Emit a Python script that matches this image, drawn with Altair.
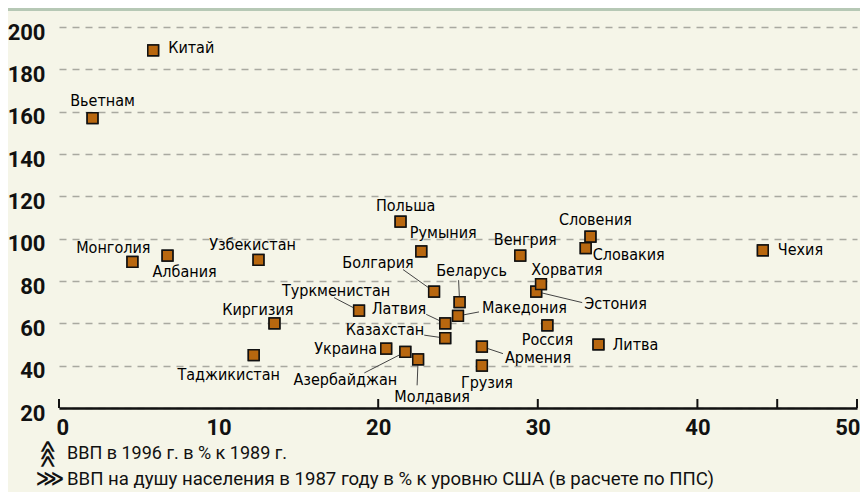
import altair as alt
import pandas as pd

# ---- data ----
countries = ["Китай", "Вьетнам", "Монголия", "Албания", "Узбекистан", "Киргизия",
             "Таджикистан", "Туркменистан", "Латвия", "Казахстан", "Беларусь",
             "Македония", "Болгария", "Украина", "Азербайджан", "Молдавия",
             "Армения", "Грузия", "Россия", "Литва", "Эстония", "Хорватия",
             "Венгрия", "Словения", "Словакия", "Чехия", "Польша", "Румыния"]
gdp_pc_1987 = [5.9, 2.1, 4.6, 6.8, 12.5, 13.5, 12.2, 18.8, 24.2, 24.2, 25.1,
               25.0, 23.5, 20.5, 21.7, 22.5, 26.5, 26.5, 30.6, 33.8, 29.9, 30.2,
               28.9, 33.3, 33.0, 44.1, 21.4, 22.7]
gdp_1996 = [189, 157, 89, 92, 90, 60, 45, 66, 60, 53, 70, 63.5, 75, 48, 46.5,
            43, 49, 40, 59, 50, 75, 78.5, 92, 101, 95.5, 94.5, 108, 94]

# label placement (pixel offsets from marker) and alignment
label_dx = [15, 10, 18, -15, -6, 19, -25, -23, -19, -21, 12, 24, -56, -9, -60,
            14, 23, 5, 0, 14, 48, 26, 5, 5, 7, 15, 5, 22]
label_dy = [-2, -17, -14, 16, -15, -13, 20, -20, -14, -8, -31, -8, -29, 0, 28,
            38, 11, 17, 15, 0, 12, -14, -16, -17, 7, 0, -16, -18]
label_align = ["left", "center", "right", "left", "center", "right", "center",
               "center", "right", "right", "center", "left", "center", "right",
               "center", "center", "left", "center", "center", "left", "left",
               "center", "center", "center", "left", "left", "center", "center"]
# leader lines (pixel offsets of the line end from the marker)
leader_names = ["Туркменистан", "Латвия", "Казахстан", "Беларусь", "Македония",
                "Болгария", "Азербайджан", "Молдавия", "Армения", "Эстония"]
leader_dx = [-25, -19, -21, -1, 21, -31, -41, -1, 21, 46]
leader_dy = [-13, -9, -3, -22, -4, -22, 21, 26, 7, 11]

x_ticks = [0, 10, 20, 30, 40, 50]
x_tick_marks = [0, 20, 30, 40, 45, 50]
y_ticks = [20, 40, 60, 80, 100, 120, 140, 160, 180, 200]
footnotes = ["ВВП в 1996 г. в % к 1989 г.",
             "ВВП на душу населения в 1987 году в % к уровню США (в расчете по ППС)"]

W, H = 798, 381
XMIN, XMAX, YMIN, YMAX = 0, 50, 20, 200
ppx = W / (XMAX - XMIN)
ppy = H / (YMAX - YMIN)

df = pd.DataFrame({"country": countries, "x": gdp_pc_1987, "y": gdp_1996,
                   "dx": label_dx, "dy": label_dy, "align": label_align})
df["lx"] = df["x"] + df["dx"] / ppx
df["ly"] = df["y"] - df["dy"] / ppy

ld = pd.DataFrame({"country": leader_names, "ldx": leader_dx, "ldy": leader_dy})
ld = ld.merge(df[["country", "x", "y"]], on="country")
ld["ex"] = ld["x"] + ld["ldx"] / ppx
ld["ey"] = ld["y"] - ld["ldy"] / ppy

xs = alt.Scale(domain=[XMIN, XMAX], nice=False, zero=False)
ys = alt.Scale(domain=[YMIN, YMAX], nice=False, zero=False)

LBL = "DejaVu Sans Condensed, DejaVu Sans, sans-serif"
NUM = "Roboto, Liberation Sans, sans-serif"

base = alt.Chart(df)

points_axes = base.mark_point(shape="square", filled=True, size=115,
                              fill="#b8670f", stroke="#111", strokeWidth=1.5,
                              opacity=1).encode(
    x=alt.X("x:Q", scale=xs, axis=alt.Axis(
        values=x_ticks, title=None, grid=False, ticks=False, domainColor="#111",
        domainWidth=2.5, labelFont=NUM, labelFontWeight="bold", labelFontSize=22,
        labelColor="#111", labelPadding=9, labelFlush=True,
        labelFlushOffset=3)),
    y=alt.Y("y:Q", scale=ys, axis=alt.Axis(
        values=y_ticks, title=None, domain=False, ticks=False, grid=True,
        gridDash=[7, 6], gridColor="#a9a9a0", gridWidth=1.5, labelFont=NUM,
        labelFontWeight="bold", labelFontSize=22, labelColor="#111",
        labelPadding=14, labelOffset=5)),
)

leaders = alt.Chart(ld).mark_rule(color="#444", strokeWidth=1).encode(
    x=alt.X("x:Q", scale=xs), y=alt.Y("y:Q", scale=ys),
    x2="ex:Q", y2="ey:Q")

tickmarks = alt.Chart(pd.DataFrame({"t": x_tick_marks})).mark_rule(
    color="#111", strokeWidth=2).encode(
    x=alt.X("t:Q", scale=xs), y=alt.value(H), y2=alt.value(H - 9))

label_layers = []
for a in ["left", "center", "right"]:
    label_layers.append(
        base.transform_filter(alt.datum.align == a).mark_text(
            align=a, baseline="middle", font=LBL, fontSize=16, color="#000"
        ).encode(x=alt.X("lx:Q", scale=xs), y=alt.Y("ly:Q", scale=ys),
                 text="country:N"))

one = pd.DataFrame({"k": [0]})
band = alt.Chart(one).mark_rect(color="#b6c8b5").encode(
    x=alt.value(-60), x2=alt.value(W + 10), y=alt.value(-30), y2=alt.value(-16))

foot1 = alt.Chart(one).mark_text(align="left", baseline="middle", font=NUM,
                                 fontSize=18, color="#111").encode(
    x=alt.value(8), y=alt.value(427), text=alt.value(footnotes[0]))
foot2 = alt.Chart(one).mark_text(align="left", baseline="middle", font=NUM,
                                 fontSize=18.6, color="#111").encode(
    x=alt.value(8), y=alt.value(452), text=alt.value(footnotes[1]))
icon1 = alt.Chart(one).mark_text(align="center", baseline="middle",
                                 font="DejaVu Sans", fontSize=20, angle=270,
                                 fontWeight="bold", color="#111").encode(
    x=alt.value(-11), y=alt.value(427), text=alt.value("⋙"))
icon2 = alt.Chart(one).mark_text(align="center", baseline="middle",
                                 font="DejaVu Sans", fontSize=20,
                                 fontWeight="bold", color="#111").encode(
    x=alt.value(-9), y=alt.value(452), text=alt.value("⋙"))

chart = alt.layer(band, points_axes, leaders, tickmarks, *label_layers,
                  points_axes.mark_point(shape="square", filled=True, size=115,
                                         fill="#b8670f", stroke="#111",
                                         strokeWidth=1.5, opacity=1),
                  foot1, foot2, icon1, icon2).properties(
    width=W, height=H,
    autosize=alt.AutoSizeParams(type="none"),
    padding={"left": 51, "top": 19, "right": 3, "bottom": 84},
).configure(background="#f5f5e8").configure_view(stroke=None)

chart.save("out.html", embed_options={"renderer": "svg", "actions": False})
